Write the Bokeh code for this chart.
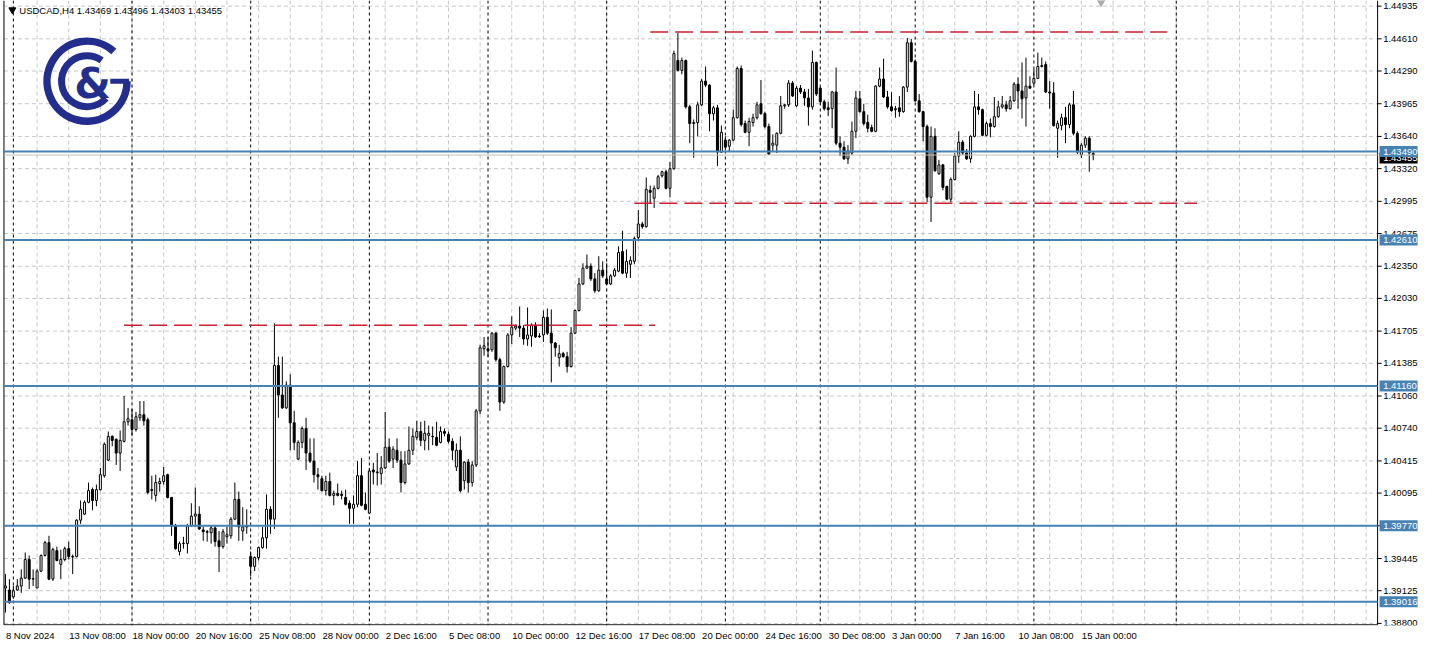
import math
from bokeh.plotting import figure
from bokeh.models import Range1d, FixedTicker, Span, ColumnDataSource
from bokeh.core.properties import value
from bokeh.embed import file_html
from bokeh.resources import INLINE

symbol = "USDCAD,H4"

open_ = [
    1.39152, 1.39132, 1.39064, 1.39132, 1.39172, 1.39250, 1.39435, 1.39240, 1.39152, 1.39320,
    1.39475, 1.39603, 1.39240, 1.39523, 1.39387, 1.39435, 1.39543, 1.39465, 1.39465, 1.39826,
    1.39886, 1.40004, 1.40130, 1.40022, 1.40130, 1.40268, 1.40423, 1.40659, 1.40629, 1.40493,
    1.40609, 1.40804, 1.40824, 1.40727, 1.40844, 1.40874, 1.40824, 1.40120, 1.40072, 1.40190,
    1.40210, 1.40278, 1.40052, 1.39769, 1.39515, 1.39593, 1.39593, 1.39769, 1.39866, 1.39886,
    1.39729, 1.39711, 1.39701, 1.39749, 1.39621, 1.39563, 1.39661, 1.39671, 1.39836, 1.40032,
    1.39719, 1.39769, 1.39465, 1.39367, 1.39455, 1.39553, 1.39651, 1.39934, 1.39836, 1.41363,
    1.41070, 1.40942, 1.41168, 1.40794, 1.40433, 1.40599, 1.40737, 1.40493, 1.40413, 1.40278,
    1.40238, 1.40120, 1.40210, 1.40072, 1.40092, 1.40082, 1.40052, 1.39994, 1.39944, 1.39984,
    1.40268, 1.39984, 1.39896, 1.40325, 1.40305, 1.40288, 1.40345, 1.40551, 1.40433, 1.40521,
    1.40423, 1.40200, 1.40385, 1.40521, 1.40649, 1.40707, 1.40619, 1.40669, 1.40659, 1.40649,
    1.40599, 1.40707, 1.40679, 1.40609, 1.40355, 1.40521, 1.40218, 1.40403, 1.40200, 1.40375,
    1.40912, 1.41529, 1.41529, 1.41519, 1.41685, 1.41421, 1.41000, 1.41353, 1.41667, 1.41735,
    1.41755, 1.41735, 1.41627, 1.41657, 1.41765, 1.41657, 1.41667, 1.41842, 1.41685, 1.41587,
    1.41441, 1.41481, 1.41451, 1.41353, 1.41685, 1.41910, 1.42174, 1.42331, 1.42351, 1.42224,
    1.42106, 1.42311, 1.42224, 1.42174, 1.42254, 1.42301, 1.42497, 1.42281, 1.42369, 1.42399,
    1.42635, 1.42770, 1.42743, 1.43104, 1.43026, 1.43124, 1.43249, 1.43289, 1.43124, 1.43319,
    1.44395, 1.44297, 1.44395, 1.43934, 1.43768, 1.43778, 1.43954, 1.44190, 1.44150, 1.43866,
    1.43924, 1.43485, 1.43603, 1.43543, 1.43603, 1.43826, 1.44315, 1.43768, 1.43681, 1.43778,
    1.43826, 1.43964, 1.43866, 1.43738, 1.43553, 1.43553, 1.43671, 1.43944, 1.43954, 1.44170,
    1.43944, 1.44120, 1.44082, 1.44022, 1.43934, 1.44375, 1.44120, 1.43984, 1.43924, 1.43916,
    1.44082, 1.43573, 1.43533, 1.43417, 1.43475, 1.43691, 1.44014, 1.43886, 1.43778, 1.43728,
    1.43691, 1.44140, 1.44210, 1.44032, 1.43934, 1.43906, 1.43924, 1.43886, 1.44130, 1.44571,
    1.44385, 1.43994, 1.43886, 1.43738, 1.43036, 1.43641, 1.43269, 1.43357, 1.43142, 1.43016,
    1.43212, 1.43445, 1.43583, 1.43475, 1.43417, 1.43641, 1.43934, 1.43906, 1.43651, 1.43768,
    1.43738, 1.43836, 1.43934, 1.43954, 1.43916, 1.43994, 1.44160, 1.44092, 1.44022, 1.44140,
    1.44170, 1.44217, 1.44335, 1.44355, 1.44082, 1.44072, 1.43721, 1.43748, 1.43826, 1.43758,
    1.43954, 1.43671, 1.43455, 1.43553, 1.43623, 1.43469,
]
high = [
    1.39290, 1.39240, 1.39172, 1.39240, 1.39337, 1.39505, 1.39475, 1.39337, 1.39337, 1.39485,
    1.39621, 1.39671, 1.39553, 1.39563, 1.39533, 1.39563, 1.39613, 1.39485, 1.39836, 1.40022,
    1.40022, 1.40200, 1.40150, 1.40180, 1.40345, 1.40599, 1.40707, 1.40669, 1.40639, 1.40717,
    1.41060, 1.40942, 1.40932, 1.40902, 1.41010, 1.41010, 1.40844, 1.40268, 1.40278, 1.40248,
    1.40355, 1.40288, 1.40052, 1.39789, 1.39613, 1.39661, 1.39789, 1.39994, 1.40150, 1.39964,
    1.39759, 1.39729, 1.39769, 1.39769, 1.39719, 1.39739, 1.39759, 1.39856, 1.40200, 1.40110,
    1.39954, 1.39934, 1.39515, 1.39465, 1.39563, 1.39759, 1.40082, 1.39964, 1.41782, 1.41451,
    1.41451, 1.41206, 1.41276, 1.40912, 1.40619, 1.40757, 1.40844, 1.40639, 1.40639, 1.40345,
    1.40268, 1.40268, 1.40298, 1.40120, 1.40190, 1.40120, 1.40130, 1.40022, 1.40072, 1.40413,
    1.40443, 1.40102, 1.40345, 1.40395, 1.40493, 1.40463, 1.40902, 1.40639, 1.40561, 1.40639,
    1.40511, 1.40511, 1.40757, 1.40737, 1.40814, 1.40804, 1.40814, 1.40767, 1.40757, 1.40804,
    1.40757, 1.40737, 1.40707, 1.40639, 1.40589, 1.40659, 1.40413, 1.40433, 1.40413, 1.40932,
    1.41569, 1.41647, 1.41647, 1.41695, 1.41695, 1.41441, 1.41363, 1.41685, 1.41852, 1.41772,
    1.41950, 1.41765, 1.41940, 1.41782, 1.41792, 1.41685, 1.41910, 1.41930, 1.41920, 1.41597,
    1.41569, 1.41499, 1.41499, 1.41745, 1.41920, 1.42234, 1.42379, 1.42467, 1.42379, 1.42281,
    1.42449, 1.42399, 1.42379, 1.42271, 1.42331, 1.42547, 1.42703, 1.42517, 1.42449, 1.42645,
    1.42908, 1.42790, 1.43232, 1.43152, 1.43152, 1.43259, 1.43299, 1.43309, 1.43387, 1.44493,
    1.44669, 1.44423, 1.44405, 1.43954, 1.43808, 1.43984, 1.44210, 1.44335, 1.44160, 1.43944,
    1.43954, 1.43748, 1.43641, 1.43613, 1.43906, 1.44335, 1.44345, 1.43798, 1.43826, 1.43866,
    1.43984, 1.44200, 1.43886, 1.43768, 1.43661, 1.43681, 1.44042, 1.43964, 1.44200, 1.44190,
    1.44140, 1.44150, 1.44112, 1.44112, 1.44493, 1.44385, 1.44130, 1.44004, 1.43984, 1.44092,
    1.44325, 1.43641, 1.43593, 1.43553, 1.43788, 1.44092, 1.44092, 1.43964, 1.43856, 1.43758,
    1.44150, 1.44325, 1.44413, 1.44092, 1.44082, 1.43944, 1.44042, 1.44140, 1.44619, 1.44609,
    1.44405, 1.44062, 1.43896, 1.43758, 1.43738, 1.43721, 1.43407, 1.43367, 1.43152, 1.43232,
    1.43475, 1.43691, 1.43603, 1.43515, 1.43651, 1.44092, 1.44062, 1.43916, 1.43788, 1.43818,
    1.44032, 1.43994, 1.44042, 1.43994, 1.44042, 1.44180, 1.44227, 1.44375, 1.44423, 1.44237,
    1.44307, 1.44473, 1.44423, 1.44385, 1.44190, 1.44180, 1.43798, 1.43866, 1.43934, 1.43974,
    1.44092, 1.43691, 1.43573, 1.43641, 1.43641, 1.43496,
]
low = [
    1.38908, 1.38996, 1.39044, 1.39124, 1.39104, 1.39240, 1.39142, 1.39172, 1.39152, 1.39310,
    1.39465, 1.39230, 1.39222, 1.39417, 1.39240, 1.39417, 1.39435, 1.39290, 1.39455, 1.39789,
    1.39876, 1.39994, 1.39924, 1.39964, 1.40120, 1.40248, 1.40413, 1.40561, 1.40375, 1.40315,
    1.40599, 1.40767, 1.40669, 1.40707, 1.40814, 1.40767, 1.40082, 1.40032, 1.40012, 1.40110,
    1.40180, 1.40042, 1.39671, 1.39533, 1.39475, 1.39543, 1.39495, 1.39759, 1.39759, 1.39729,
    1.39621, 1.39613, 1.39593, 1.39563, 1.39310, 1.39543, 1.39593, 1.39641, 1.39826, 1.39621,
    1.39621, 1.39691, 1.39270, 1.39320, 1.39425, 1.39543, 1.39543, 1.39691, 1.39739, 1.40844,
    1.40932, 1.40932, 1.40521, 1.40521, 1.40423, 1.40541, 1.40325, 1.40395, 1.40200, 1.40130,
    1.40110, 1.40072, 1.40062, 1.39974, 1.40062, 1.40032, 1.39974, 1.39789, 1.39789, 1.39954,
    1.39964, 1.39924, 1.39886, 1.40180, 1.40170, 1.40180, 1.40335, 1.40395, 1.40345, 1.40395,
    1.40102, 1.40180, 1.40375, 1.40473, 1.40619, 1.40561, 1.40521, 1.40521, 1.40571, 1.40561,
    1.40589, 1.40659, 1.40589, 1.40423, 1.40315, 1.40102, 1.40130, 1.40102, 1.40160, 1.40355,
    1.40882, 1.41461, 1.41451, 1.41499, 1.41401, 1.40912, 1.40982, 1.41343, 1.41577, 1.41715,
    1.41647, 1.41569, 1.41559, 1.41549, 1.41637, 1.41637, 1.41597, 1.41667, 1.41196, 1.41451,
    1.41353, 1.41441, 1.41293, 1.41343, 1.41675, 1.41900, 1.42164, 1.42321, 1.42204, 1.42086,
    1.42096, 1.42234, 1.42164, 1.42164, 1.42244, 1.42291, 1.42271, 1.42234, 1.42234, 1.42369,
    1.42615, 1.42723, 1.42733, 1.42976, 1.42928, 1.43114, 1.43232, 1.43114, 1.43036, 1.43309,
    1.44287, 1.44257, 1.43916, 1.43573, 1.43427, 1.43641, 1.43944, 1.44130, 1.43691, 1.43798,
    1.43347, 1.43475, 1.43505, 1.43485, 1.43593, 1.43818, 1.43738, 1.43671, 1.43543, 1.43738,
    1.43808, 1.43856, 1.43721, 1.43455, 1.43485, 1.43475, 1.43661, 1.43916, 1.43934, 1.44032,
    1.43934, 1.44062, 1.43944, 1.43748, 1.43906, 1.44042, 1.43974, 1.43896, 1.43846, 1.43721,
    1.43553, 1.43445, 1.43407, 1.43367, 1.43455, 1.43623, 1.43876, 1.43748, 1.43681, 1.43681,
    1.43681, 1.44130, 1.44022, 1.43916, 1.43886, 1.43826, 1.43836, 1.43876, 1.44082, 1.44375,
    1.43984, 1.43876, 1.43593, 1.42986, 1.42790, 1.43289, 1.43259, 1.43104, 1.43006, 1.42986,
    1.43202, 1.43377, 1.43455, 1.43407, 1.43377, 1.43631, 1.43856, 1.43641, 1.43641, 1.43631,
    1.43728, 1.43826, 1.43916, 1.43886, 1.43906, 1.43984, 1.43916, 1.43818, 1.43738, 1.44112,
    1.44150, 1.44210, 1.44325, 1.44072, 1.43916, 1.43738, 1.43427, 1.43701, 1.43573, 1.43721,
    1.43651, 1.43465, 1.43427, 1.43525, 1.43289, 1.43403,
]
close = [
    1.39172, 1.39006, 1.39124, 1.39172, 1.39250, 1.39435, 1.39240, 1.39245, 1.39320, 1.39475,
    1.39603, 1.39240, 1.39533, 1.39425, 1.39435, 1.39543, 1.39465, 1.39460, 1.39826, 1.39934,
    1.40004, 1.40120, 1.40022, 1.40130, 1.40278, 1.40581, 1.40659, 1.40619, 1.40493, 1.40619,
    1.40804, 1.40834, 1.40727, 1.40854, 1.40874, 1.40814, 1.40102, 1.40130, 1.40200, 1.40210,
    1.40268, 1.40052, 1.39769, 1.39543, 1.39593, 1.39598, 1.39769, 1.39866, 1.39886, 1.39739,
    1.39711, 1.39706, 1.39749, 1.39613, 1.39563, 1.39711, 1.39681, 1.39836, 1.40032, 1.39759,
    1.39759, 1.39759, 1.39367, 1.39455, 1.39553, 1.39651, 1.39934, 1.39836, 1.41363, 1.41070,
    1.40942, 1.41168, 1.40794, 1.40599, 1.40599, 1.40737, 1.40493, 1.40413, 1.40278, 1.40258,
    1.40120, 1.40210, 1.40072, 1.40092, 1.40072, 1.40072, 1.39984, 1.39944, 1.39984, 1.40268,
    1.39974, 1.39934, 1.40315, 1.40305, 1.40298, 1.40345, 1.40551, 1.40413, 1.40531, 1.40423,
    1.40200, 1.40385, 1.40521, 1.40659, 1.40707, 1.40619, 1.40689, 1.40689, 1.40655, 1.40571,
    1.40707, 1.40689, 1.40609, 1.40521, 1.40521, 1.40120, 1.40403, 1.40200, 1.40375, 1.40912,
    1.41539, 1.41559, 1.41509, 1.41685, 1.41421, 1.41000, 1.41353, 1.41667, 1.41745, 1.41755,
    1.41735, 1.41627, 1.41667, 1.41765, 1.41647, 1.41650, 1.41842, 1.41685, 1.41587, 1.41539,
    1.41481, 1.41451, 1.41353, 1.41685, 1.41910, 1.42174, 1.42331, 1.42351, 1.42224, 1.42106,
    1.42311, 1.42254, 1.42174, 1.42254, 1.42311, 1.42487, 1.42281, 1.42399, 1.42409, 1.42625,
    1.42770, 1.42743, 1.43114, 1.43084, 1.43124, 1.43239, 1.43289, 1.43124, 1.43319, 1.44463,
    1.44297, 1.44395, 1.43934, 1.43768, 1.43778, 1.43954, 1.44190, 1.44150, 1.43866, 1.43924,
    1.43485, 1.43681, 1.43533, 1.43603, 1.43826, 1.44315, 1.43758, 1.43681, 1.43788, 1.43826,
    1.43954, 1.43866, 1.43738, 1.43465, 1.43573, 1.43671, 1.43944, 1.43954, 1.44170, 1.44042,
    1.44120, 1.44082, 1.44022, 1.43934, 1.44375, 1.44062, 1.43984, 1.43916, 1.43906, 1.44082,
    1.43573, 1.43533, 1.43417, 1.43495, 1.43691, 1.44022, 1.43886, 1.43768, 1.43721, 1.43691,
    1.44140, 1.44210, 1.44032, 1.43934, 1.43896, 1.43916, 1.43886, 1.44130, 1.44571, 1.44385,
    1.43994, 1.43886, 1.43738, 1.43036, 1.43641, 1.43299, 1.43357, 1.43134, 1.43016, 1.43212,
    1.43445, 1.43583, 1.43475, 1.43417, 1.43641, 1.43934, 1.43906, 1.43651, 1.43768, 1.43738,
    1.43836, 1.43934, 1.43954, 1.43916, 1.43994, 1.44160, 1.44092, 1.44014, 1.44140, 1.44120,
    1.44217, 1.44335, 1.44345, 1.44082, 1.44072, 1.43748, 1.43768, 1.43826, 1.43758, 1.43954,
    1.43671, 1.43485, 1.43553, 1.43623, 1.43475, 1.43455,
]

time_labels = ["8 Nov 2024", "13 Nov 08:00", "18 Nov 00:00", "20 Nov 16:00", "25 Nov 08:00",
               "28 Nov 00:00", "2 Dec 16:00", "5 Dec 08:00", "10 Dec 00:00", "12 Dec 16:00",
               "17 Dec 08:00", "20 Dec 00:00", "24 Dec 16:00", "30 Dec 08:00", "3 Jan 00:00",
               "7 Jan 16:00", "10 Jan 08:00", "15 Jan 00:00"]
time_label_bars = [0, 16, 32, 48, 64, 80, 96, 112, 128, 144, 160, 176, 192, 208, 224, 240, 256, 272]

price_ticks = [1.44935, 1.44610, 1.44290, 1.43965, 1.43640, 1.43320, 1.42995, 1.42675,
               1.42350, 1.42030, 1.41705, 1.41385, 1.41060, 1.40740, 1.40415, 1.40095,
               1.39770, 1.39445, 1.39125, 1.38800]

level_lines = [1.43490, 1.42610, 1.41160, 1.39770, 1.39016]
bid_price = 1.43455
red_levels = [1.44678, 1.42976, 1.41763]
red_start = [163, 159, 30]
red_end = [293.75, 301.25, 164.25]
separator_bars = [2, 32, 62, 92, 122, 152, 182, 206, 230, 260, 296]

FONT = "Liberation Sans"
FS = "9.5px"
BLUE = "#4682b4"
RED = "#cc1f2f"
GRID = "#c6c6c6"
LOGO = "#232d8e"

W, H = 1423, 643
X_START, X_RIGHT = -1.25, 358.5      # frame spans chart area + price scale area
X_LEFT_EDGE, X_SCALE = -0.375, 346.9   # chart border / price scale line (bar units)
Y_TOP = 1.44991
Y_BOT = 1.38786
PX = (Y_TOP - Y_BOT) / 634.5

def X(px):
    return (px - 5) / 4.0

def Y(py):
    return Y_TOP - py * PX

p = figure(width=W, height=H, output_backend="svg", toolbar_location=None,
           x_range=Range1d(X_START, X_RIGHT), y_range=Range1d(Y_BOT - 0.7 * PX, Y_TOP),
           y_axis_location=None,
           min_border_left=0, min_border_top=0, min_border_right=0, min_border_bottom=0)
p.outline_line_color = None
p.background_fill_color = "white"
p.border_fill_color = "white"
p.xgrid.visible = False
p.ygrid.visible = False

# time axis (labels left-aligned at their bar in the reference -> centre each label)
char_w = {" ": 2.64, ":": 2.64, "N": 6.86, "D": 6.86, "J": 4.75, "v": 4.75, "c": 4.75}
ppb = W / (X_RIGHT - X_START)
centers = []
for b, t in zip(time_label_bars, time_labels):
    w = sum(char_w.get(ch, 5.28) for ch in t)
    centers.append(round(b + (w / 2 + 0.5) / ppb, 2))
xa = p.xaxis[0]
xa.ticker = FixedTicker(ticks=centers)
xa.major_label_overrides = {c: t for c, t in zip(centers, time_labels)}
xa.major_label_text_font = FONT
xa.major_label_text_font_size = FS
xa.major_label_text_color = "black"
xa.axis_line_color = None
xa.major_tick_out = 0
xa.major_tick_in = 0
xa.minor_tick_line_color = None
xa.major_label_standoff = 4

# grids
p.segment(x0=X_LEFT_EDGE, y0=price_ticks, x1=X_SCALE, y1=price_ticks, line_color=GRID,
          line_dash="4 3", line_width=1, level="underlay")
for b in range(8, 347, 8):
    p.add_layout(Span(location=b, dimension="height", line_color=GRID, line_dash="4 3",
                      line_width=1, level="underlay"))
for b in separator_bars:
    p.add_layout(Span(location=b, dimension="height", line_color="black", line_dash="3 3",
                      line_width=1, level="underlay"))

# chart borders and price scale
p.segment(x0=[X_LEFT_EDGE, X_SCALE, X_LEFT_EDGE], y0=[Y_TOP, Y_TOP, Y_BOT],
          x1=[X_LEFT_EDGE, X_SCALE, X_SCALE], y1=[Y_BOT, Y_BOT, Y_BOT],
          line_color="black", line_width=1)
p.segment(x0=X_SCALE, y0=price_ticks, x1=X_SCALE + 1.0, y1=price_ticks,
          line_color="black", line_width=1)
p.text(x=X_SCALE + 1.4, y=price_ticks, text=[f"{v:.5f}" for v in price_ticks],
       text_font=value(FONT), text_font_size=FS, text_color="black",
       text_align="left", text_baseline="middle")

# candles
idx = list(range(len(open_)))
src = ColumnDataSource(dict(
    x=idx, h=high, l=low,
    top=[max(o, c) for o, c in zip(open_, close)],
    bot=[min(o, c) for o, c in zip(open_, close)],
    fill=["white" if c >= o else "black" for o, c in zip(open_, close)],
))
p.segment(x0="x", y0="h", x1="x", y1="l", source=src, line_color="black", line_width=1)
p.vbar(x="x", width=0.5, top="top", bottom="bot", fill_color="fill", line_color="black",
       line_width=1, source=src)

# red dashed levels
p.segment(x0=red_start, y0=red_levels, x1=red_end, y1=red_levels, line_color=RED,
          line_width=1.5, line_dash="18 7")

# bid line and blue horizontal levels
p.segment(x0=X_LEFT_EDGE, y0=bid_price, x1=X_SCALE, y1=bid_price, line_color="#c0c0c0",
          line_width=1)
p.segment(x0=X_LEFT_EDGE, y0=level_lines, x1=X_SCALE, y1=level_lines, line_color=BLUE,
          line_width=2)

# price tags on the scale
tag_x = X_SCALE + 5.3
p.rect(x=tag_x, y=bid_price - 3 * PX, width=38, height=11, width_units="screen",
       height_units="screen", fill_color="black", line_color=None)
p.text(x=X_SCALE + 1.4, y=bid_price - 3 * PX, text=[f"{bid_price:.5f}"], text_font=value(FONT),
       text_font_size=FS, text_color="white", text_align="left", text_baseline="middle")
p.rect(x=tag_x, y=level_lines, width=38, height=11, width_units="screen",
       height_units="screen", fill_color=BLUE, line_color=None)
p.text(x=X_SCALE + 1.4, y=level_lines, text=[f"{v:.5f}" for v in level_lines],
       text_font=value(FONT), text_font_size=FS, text_color="white",
       text_align="left", text_baseline="middle")

# header
p.scatter(x=[X(12)], y=[Y(9.5)], marker="inverted_triangle", size=7, color="black")
header = f"{symbol}  {open_[-1]:.5f} {high[-1]:.5f} {low[-1]:.5f} {close[-1]:.5f}"
p.text(x=[X(19)], y=[Y(10.5)], text=[header], text_font=value(FONT), text_font_size="9.5px",
       text_color="black", text_baseline="middle", text_align="left")

# chart shift marker
p.scatter(x=[X(1113)], y=[Y(1.5)], marker="inverted_triangle", size=8, color="#a8a8a8")

# logo
cx, cy = X(87.5), Y(82)
p.arc(x=cx, y=cy, radius=40, radius_units="screen", start_angle=math.radians(48),
      end_angle=math.radians(360), direction="anticlock", line_width=7.5, line_color=LOGO)
p.arc(x=cx, y=cy, radius=25.5, radius_units="screen", start_angle=math.radians(55),
      end_angle=math.radians(318), direction="anticlock", line_width=7, line_color=LOGO)
p.segment(x0=[X(111)], y0=[cy], x1=[X(130)], y1=[cy], line_width=5, line_color=LOGO)
p.text(x=[X(93)], y=[Y(84)], text=["&"], text_font=value("DejaVu Sans"),
       text_font_style="bold", text_font_size="42px", text_align="center",
       text_baseline="middle", text_color=LOGO)

open("out.html", "w").write(file_html(p, INLINE))
